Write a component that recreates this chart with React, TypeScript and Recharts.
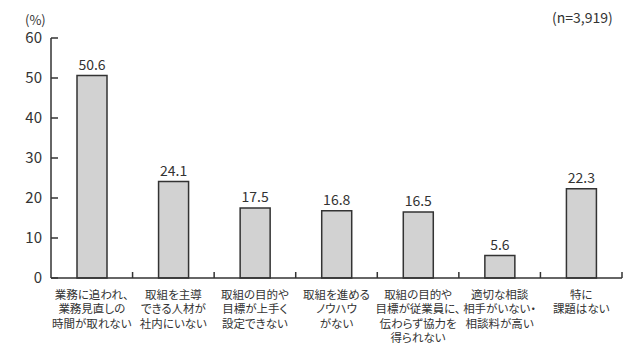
import { BarChart, Bar, XAxis, YAxis, LabelList } from 'recharts';

const categories = [
  '業務に追われ、\n業務見直しの\n時間が取れない',
  '取組を主導\nできる人材が\n社内にいない',
  '取組の目的や\n目標が上手く\n設定できない',
  '取組を進める\nノウハウ\nがない',
  '取組の目的や\n目標が従業員に、\n伝わらず協力を\n得られない',
  '適切な相談\n相手がいない・\n相談料が高い',
  '特に\n課題はない',
];
const values = [50.6, 24.1, 17.5, 16.8, 16.5, 5.6, 22.3];
const yTicks = [0, 10, 20, 30, 40, 50, 60];

const chartData = categories.map((name, i) => ({ name, value: values[i] }));

const W = 640;
const H = 353;
const LEFT = 51;
const RIGHT = 18;
const FONT = '"Noto Sans CJK JP", "Noto Sans", sans-serif';
const INK = '#333';
const bandWidth = (W - LEFT - RIGHT) / categories.length;

const YTick = ({ x, y, payload }: any) => (
  <g>
    <line x1={x} x2={x + 7} y1={y} y2={y} stroke={INK} strokeWidth={1.5} />
    <text x={x - 9} y={y} dy={5} textAnchor="end" fontSize={15} fill={INK} fontFamily={FONT}>
      {payload.value}
    </text>
  </g>
);

const XTick = ({ x, y, payload }: any) => {
  const lines = String(payload.value).split('\n');
  return (
    <g>
      <line x1={x + bandWidth / 2} x2={x + bandWidth / 2} y1={y - 6} y2={y} stroke={INK} strokeWidth={1.5} />
      {lines.map((l, i) => (
        <text
          key={i}
          x={x}
          y={y + 21 + i * 14.3}
          textAnchor="middle"
          fontSize={11.5}
          fill={INK}
          fontFamily={FONT}
          style={{ fontFeatureSettings: '"palt"' }}
        >
          {l}
        </text>
      ))}
    </g>
  );
};

export default function App() {
  return (
    <div style={{ position: 'absolute', left: 0, top: 0, width: W, height: H, background: '#fff', fontFamily: FONT }}>
      <div style={{ position: 'absolute', left: 25, top: 13, fontSize: 13, lineHeight: 1, color: INK }}>(%)</div>
      <div style={{ position: 'absolute', left: 552, top: 10, fontSize: 14, lineHeight: 1, color: INK }}>(n=3,919)</div>
      <BarChart width={W} height={H} data={chartData} margin={{ top: 38, right: RIGHT, bottom: 0, left: 0 }}>
        <XAxis
          dataKey="name"
          height={75}
          interval={0}
          tickSize={0}
          tickMargin={0}
          tickLine={false}
          axisLine={{ stroke: INK, strokeWidth: 1.5 }}
          tick={<XTick />}
        />
        <YAxis
          width={LEFT}
          domain={[0, 60]}
          ticks={yTicks}
          interval={0}
          tickSize={0}
          tickMargin={0}
          tickLine={false}
          axisLine={{ stroke: INK, strokeWidth: 1.5 }}
          tick={<YTick />}
        />
        <Bar dataKey="value" barSize={30} fill="#d2d2d2" stroke={INK} strokeWidth={1.5} isAnimationActive={false}>
          <LabelList dataKey="value" position="top" offset={6} fontSize={14} fill={INK} fontFamily={FONT} formatter={(v: any) => Number(v).toFixed(1)} />
        </Bar>
      </BarChart>
    </div>
  );
}
